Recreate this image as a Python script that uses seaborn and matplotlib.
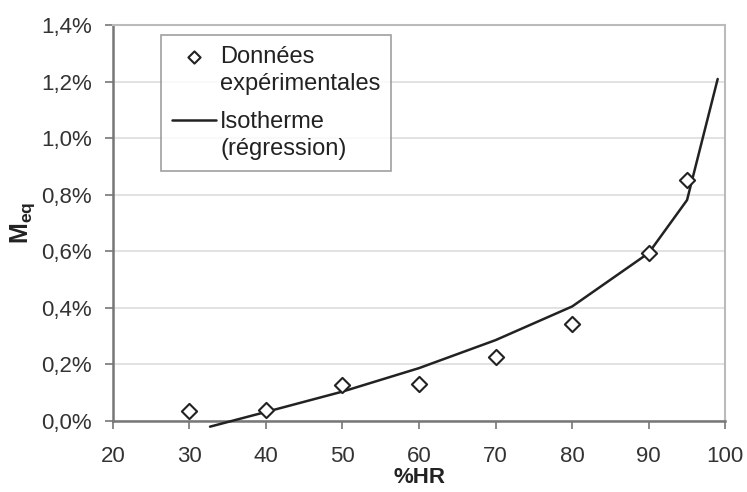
import numpy as np
import pandas as pd
import seaborn as sns
import matplotlib.pyplot as plt
from matplotlib.ticker import FuncFormatter, MultipleLocator

# experimental points (%HR, M_eq in %)
hr_exp = [30, 40, 50, 60, 70, 80, 90, 95]
meq_exp = [0.037, 0.040, 0.127, 0.130, 0.226, 0.343, 0.594, 0.852]

# regression isotherm (%HR, M_eq in %)
hr_fit = [32.7, 40, 50, 60, 70, 80, 90, 95, 99]
meq_fit = [-0.020, 0.032, 0.104, 0.187, 0.286, 0.405, 0.594, 0.781, 1.209]

exp_df = pd.DataFrame({'HR': hr_exp, 'Meq': meq_exp})
fit_df = pd.DataFrame({'HR': hr_fit, 'Meq': meq_fit})

sns.set_style('white')
plt.rcParams['font.family'] = ['Liberation Sans', 'DejaVu Sans']
plt.rcParams['mathtext.fontset'] = 'custom'
plt.rcParams['mathtext.rm'] = 'Liberation Sans'
plt.rcParams['mathtext.bf'] = 'Liberation Sans:bold'

fig = plt.figure(figsize=(7.47, 4.92), dpi=100)
ax = fig.add_axes([0.151, 0.1443, 0.82, 0.805])

sns.scatterplot(data=exp_df, x='HR', y='Meq', ax=ax, marker='D', s=60,
                facecolor='white', edgecolor='#222222', linewidth=1.5,
                label='Données\nexpérimentales', zorder=4, clip_on=False)
sns.lineplot(data=fit_df, x='HR', y='Meq', ax=ax, color='#222222', linewidth=1.8,
             label='Isotherme\n(régression)', zorder=3)
ax.lines[-1].set_clip_on(False)

ax.set_xlim(20, 100)
ax.set_ylim(0, 1.4)
ax.xaxis.set_major_locator(MultipleLocator(10))
ax.yaxis.set_major_locator(MultipleLocator(0.2))
ax.yaxis.set_major_formatter(FuncFormatter(lambda v, p: f'{v:.1f}%'.replace('.', ',')))

ax.grid(axis='y', color='#dddddd', linewidth=1.2)
ax.set_axisbelow(True)
for side in ['left', 'bottom']:
    ax.spines[side].set_color('#777777')
    ax.spines[side].set_linewidth(1.8)
for side in ['top', 'right']:
    ax.spines[side].set_color('#bbbbbb')
    ax.spines[side].set_linewidth(1.5)

ax.tick_params(axis='both', labelsize=16, colors='#777777', labelcolor='#333333',
               length=6, width=1.2, direction='out', bottom=True, left=True)
ax.tick_params(axis='x', pad=12)
ax.tick_params(axis='y', pad=9)

ax.set_xlabel('%HR', fontsize=16, fontweight='bold', color='#222222', labelpad=0)
ax.set_ylabel(r'$\mathbf{M_{eq}}$', fontsize=18, color='#222222', labelpad=3)

leg = ax.legend(loc='upper left', bbox_to_anchor=(161 / 747, 1 - 35 / 492),
                bbox_transform=fig.transFigure, fontsize=17, frameon=True,
                fancybox=False, edgecolor='#888888', handlelength=1.9,
                handletextpad=0.15, borderpad=0.45, borderaxespad=0,
                labelspacing=0.7, markerscale=0.8)
leg.get_frame().set_linewidth(1.2)
for t in leg.get_texts():
    t.set_color('#222222')
    t.set_linespacing(1.3)

# put each legend symbol on the first line of its label
dy = 11.5
h_pts = leg.legend_handles[0]
off = h_pts.get_offsets()
off[:, 1] += dy
h_pts.set_offsets(off)
h_line = leg.legend_handles[1]
h_line.set_ydata(np.asarray(h_line.get_ydata()) + dy)

plt.savefig('out.png', dpi=100)
